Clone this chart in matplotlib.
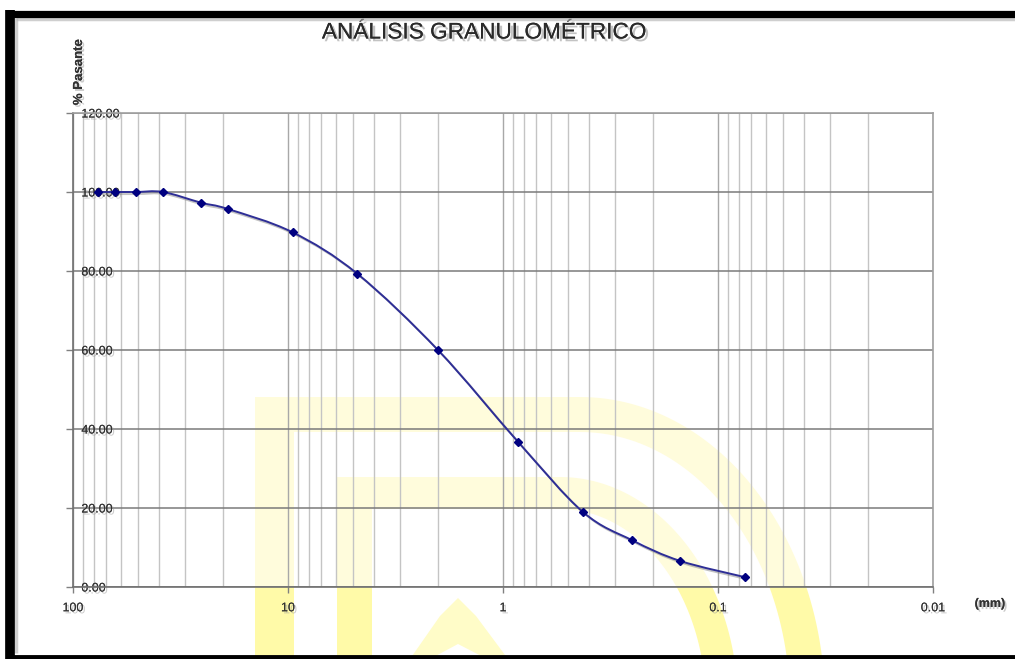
import numpy as np
import matplotlib
matplotlib.use("Agg")
import matplotlib.pyplot as plt
from matplotlib.path import Path
from matplotlib.patches import PathPatch, Polygon
from matplotlib.lines import Line2D
from matplotlib.ticker import FixedLocator, FixedFormatter, NullFormatter, LogLocator
import matplotlib.patheffects as pe

# ---------------- data ----------------
sieve_mm = [76.2, 63.5, 50.8, 38.1, 25.4, 19.05, 9.525, 4.76, 2.0, 0.85, 0.425, 0.25, 0.15, 0.075]
pct_passing = [100.0, 100.0, 100.0, 100.0, 97.3, 95.7, 89.8, 79.3, 59.9, 36.7, 19.0, 11.8, 6.6, 2.5]
x_ticks = [100, 10, 1, 0.1, 0.01]
x_tick_labels = ["100", "10", "1", "0.1", "0.01"]
y_ticks = [0, 20, 40, 60, 80, 100, 120]
title = "ANÁLISIS GRANULOMÉTRICO"
y_label = "% Pasante"
x_unit = "(mm)"

W, H = 1015, 659
plt.rcParams['font.family'] = ['Liberation Sans', 'DejaVu Sans']
fig = plt.figure(figsize=(W / 100, H / 100), dpi=100)
fig.patch.set_facecolor('white')

def fx(px):
    return px / W

def fy(py):
    return 1 - py / H

# ---------------- watermark (decorative, figure pixel coords) ----------------
wm_color = '#FFFAA8'

def band(x_left, x_right, y_top, thick, x_arc, cy, rx, ry):
    pts = [(x_left, H), (x_left, y_top), (x_arc, y_top)]
    t = np.linspace(0, np.pi / 2, 60)
    yb = H
    for a in t:
        X = x_arc + rx * np.sin(a)
        Y = cy - ry * np.cos(a)
        if Y > yb:
            break
        pts.append((X, Y))
    pts.append((x_arc + rx * np.sqrt(max(0, 1 - ((cy - yb) / ry) ** 2)), yb))
    rx2, ry2 = rx - thick, ry - thick
    inner = []
    for a in t:
        X = x_arc + rx2 * np.sin(a)
        Y = cy - ry2 * np.cos(a)
        if Y > yb:
            break
        inner.append((X, Y))
    inner.append((x_arc + rx2 * np.sqrt(max(0, 1 - ((cy - yb) / ry2) ** 2)), yb))
    pts += inner[::-1]
    pts += [(x_right, y_top + thick), (x_right, H)]
    return [(fx(a), fy(b)) for a, b in pts]

outer = band(255, 294, 397, 35, 580, 705, 245, 308)
innerb = band(337, 372, 477, 32, 560, 705, 178, 228)
for poly in (outer, innerb):
    fig.add_artist(Polygon(poly, closed=True, transform=fig.transFigure,
                           facecolor=wm_color, edgecolor='none', zorder=-5))
a_out = [(410, 659), (440, 616), (458, 598), (476, 616), (508, 659)]
a_in = [(430, 659), (458, 644), (487, 659)]
fig.add_artist(Polygon([(fx(a), fy(b)) for a, b in a_out], closed=True, transform=fig.transFigure,
                       facecolor='#FFFCC8', edgecolor='none', zorder=-5))
fig.add_artist(Polygon([(fx(a), fy(b)) for a, b in a_in], closed=True, transform=fig.transFigure,
                       facecolor='white', edgecolor='none', zorder=-4))

# ---------------- axes ----------------
ax_l, ax_r, ax_t, ax_b = 73, 933, 113, 587
ax = fig.add_axes([fx(ax_l), fy(ax_b), (ax_r - ax_l) / W, (ax_b - ax_t) / H])
ax.set_facecolor((1, 1, 1, 0.6))
ax.set_xscale('log')
ax.set_xlim(100, 0.01)
ax.set_ylim(0, 120)

ax.xaxis.set_major_locator(FixedLocator(x_ticks))
ax.xaxis.set_major_formatter(FixedFormatter(x_tick_labels))
ax.xaxis.set_minor_locator(LogLocator(base=10, subs=np.arange(2, 10), numticks=20))
ax.xaxis.set_minor_formatter(NullFormatter())
ax.set_yticks(y_ticks)
ax.set_yticklabels([f"{v:.2f}" for v in y_ticks])

shadow = [pe.withSimplePatchShadow(offset=(1.5, -1.5), shadow_rgbFace='#999999', alpha=0.5), pe.Normal()]
ax.tick_params(axis='x', which='major', direction='out', length=4, width=1, color='#808080',
               labelsize=9, labelcolor='#333333', pad=7)
ax.tick_params(axis='x', which='minor', length=0)
ax.tick_params(axis='y', which='major', direction='out', length=5, width=1, color='#808080',
               labelsize=9, labelcolor='#333333', pad=-11)
for lbl in ax.get_yticklabels():
    lbl.set_ha('left')
    lbl.set_path_effects(shadow)
for lbl in ax.get_xticklabels():
    lbl.set_path_effects(shadow)

ax.grid(True, which='minor', axis='x', color='#c4c4c4', lw=1.0, zorder=1)
ax.grid(True, which='major', axis='x', color='#a8a8a8', lw=1.0, zorder=1)
ax.grid(True, which='major', axis='y', color='#7a7a7a', lw=1.1, zorder=1)
ax.set_axisbelow(True)
for s in ['left', 'bottom']:
    ax.spines[s].set_color('#707070')
    ax.spines[s].set_linewidth(1.2)
for s in ['top', 'right']:
    ax.spines[s].set_color('#a0a0a0')
    ax.spines[s].set_linewidth(1.2)

# ---------------- smoothed line (Bezier through the points, like Excel) ----------------
lx = np.log10(np.array(sieve_mm))
yy = np.array(pct_passing)
n = len(lx)
verts = [(lx[0], yy[0])]
codes = [Path.MOVETO]
for i in range(n - 1):
    p0 = np.array([lx[max(i - 1, 0)], yy[max(i - 1, 0)]])
    p1 = np.array([lx[i], yy[i]])
    p2 = np.array([lx[i + 1], yy[i + 1]])
    p3 = np.array([lx[min(i + 2, n - 1)], yy[min(i + 2, n - 1)]])
    c1 = p1 + (p2 - p0) / 6.0
    c2 = p2 - (p3 - p1) / 6.0
    verts += [tuple(c1), tuple(c2), tuple(p2)]
    codes += [Path.CURVE4] * 3
verts = [(10 ** v[0], v[1]) for v in verts]
curve = PathPatch(Path(verts, codes), facecolor='none', edgecolor='#2e2e96', lw=1.4, zorder=3,
                  path_effects=[pe.SimpleLineShadow(offset=(1.5, -1.5), shadow_color='#888888', alpha=0.5), pe.Normal()])
ax.add_patch(curve)
ax.plot(sieve_mm, pct_passing, linestyle='none', marker='D', markersize=4.2,
        color='#000080', zorder=4)

# ---------------- texts ----------------
fig.text(fx(484), fy(32), title, ha='center', va='center', fontsize=16.3, color='#2a2a2a',
         path_effects=[pe.withSimplePatchShadow(offset=(2, -2), shadow_rgbFace='#888888', alpha=0.5), pe.Normal()])
fig.text(fx(79), fy(72), y_label, ha='center', va='center', rotation=90, fontsize=9.5,
         fontweight='bold', color='#333333', path_effects=shadow)
fig.text(fx(990), fy(604), x_unit, ha='center', va='center', fontsize=9,
         fontweight='bold', color='#333333', path_effects=shadow)

# ---------------- black frame ----------------
fig.add_artist(Line2D([fx(10), fx(10)], [fy(10), fy(659)], transform=fig.transFigure,
                      color='black', lw=7, solid_capstyle='butt', zorder=10))
fig.add_artist(Line2D([fx(6), fx(1015)], [fy(13.5), fy(13.5)], transform=fig.transFigure,
                      color='black', lw=5.2, solid_capstyle='butt', zorder=10))
fig.add_artist(Line2D([fx(6), fx(1015)], [fy(657), fy(657)], transform=fig.transFigure,
                      color='black', lw=3.5, solid_capstyle='butt', zorder=10))
fig.add_artist(Line2D([fx(16), fx(16)], [fy(18), fy(653)], transform=fig.transFigure,
                      color='#b0b0b0', lw=2.5, alpha=0.6, solid_capstyle='butt', zorder=9))
fig.add_artist(Line2D([fx(16), fx(1015)], [fy(19), fy(19)], transform=fig.transFigure,
                      color='#b0b0b0', lw=2.5, alpha=0.6, solid_capstyle='butt', zorder=9))

fig.savefig('out.png', dpi=100, facecolor='white')
